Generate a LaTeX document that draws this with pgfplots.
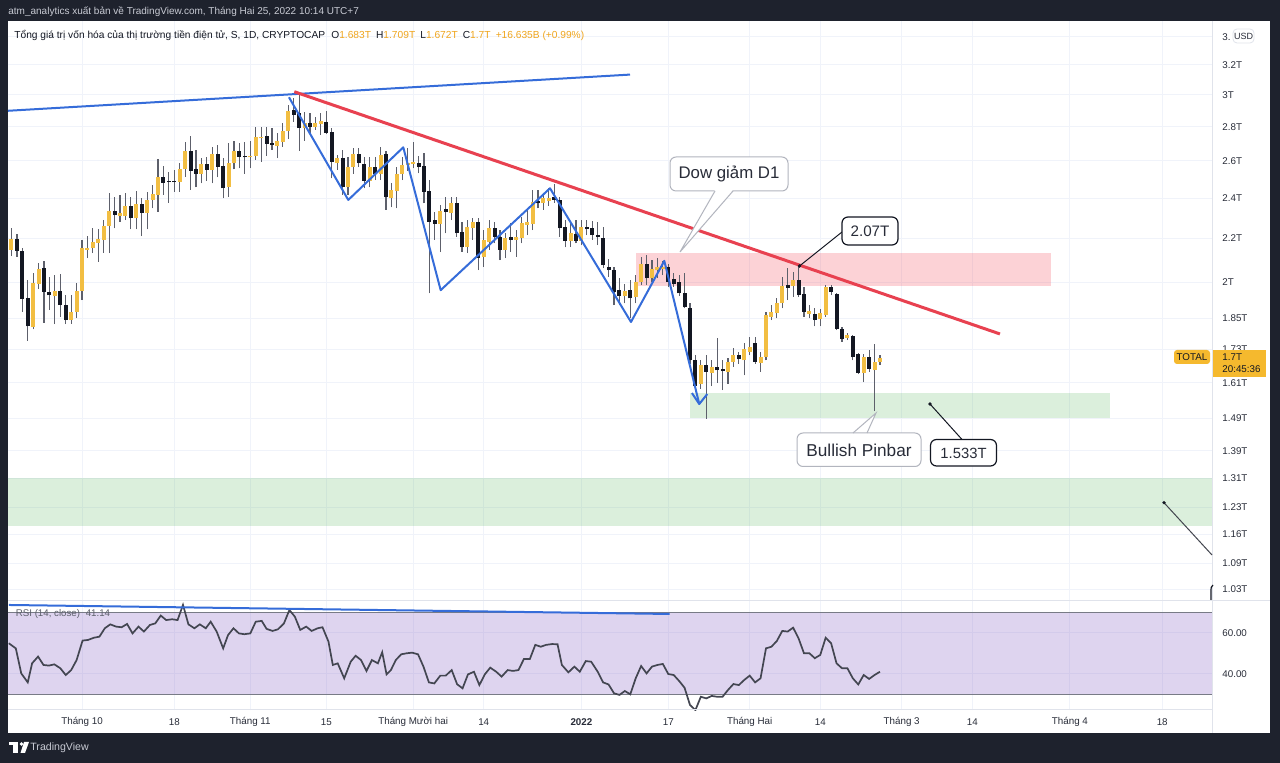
\documentclass[border=0pt]{standalone}
\usepackage{fontspec}
\setmainfont{Liberation Sans}
\usepackage{pgfplots}
\usepackage{pgfplotstable}
\pgfplotsset{compat=1.18}

\definecolor{bgdark}{RGB}{30,34,45}
\definecolor{upc}{RGB}{242,190,66}
\definecolor{dnc}{RGB}{19,23,34}
\definecolor{wickc}{RGB}{93,96,107}
\definecolor{gridc}{RGB}{240,243,250}
\definecolor{sepc}{RGB}{224,227,235}
\definecolor{bluel}{RGB}{53,108,217}
\definecolor{redl}{RGB}{232,65,80}
\definecolor{tvred}{RGB}{242,54,69}
\definecolor{tvgreen}{RGB}{76,175,80}
\definecolor{tvpurple}{RGB}{126,87,194}
\definecolor{rsiline}{RGB}{67,70,81}
\definecolor{bandline}{RGB}{120,123,134}
\definecolor{txt}{RGB}{40,44,56}
\definecolor{hdrtxt}{RGB}{200,203,212}
\definecolor{orangev}{RGB}{240,166,30}
\definecolor{yel}{RGB}{245,185,46}
\definecolor{boxb}{RGB}{178,181,190}

\newcommand{\fs}[1]{\fontsize{#1}{#1}\selectfont}

\pgfplotstableread{
d o h l c
-13 2.145 2.248 2.117 2.195
-9 1.816 2.041 1.807 1.997
-8 1.995 2.085 1.971 2.057
-5 1.942 2.032 1.827 1.964
-2 1.843 1.946 1.830 1.876
-1 1.875 1.997 1.851 1.965
0 1.965 2.192 1.925 2.153
1 2.147 2.210 2.108 2.154
2 2.153 2.248 2.130 2.183
3 2.179 2.245 2.091 2.195
4 2.192 2.288 2.133 2.259
5 2.259 2.425 2.130 2.335
7 2.308 2.416 2.280 2.322
8 2.308 2.425 2.288 2.359
10 2.297 2.438 2.243 2.369
12 2.325 2.433 2.243 2.390
13 2.390 2.468 2.347 2.421
14 2.416 2.612 2.330 2.509
18 2.486 2.588 2.433 2.553
19 2.553 2.711 2.513 2.659
22 2.528 2.616 2.477 2.584
24 2.550 2.682 2.477 2.640
27 2.459 2.702 2.404 2.588
28 2.588 2.717 2.553 2.659
31 2.621 2.717 2.559 2.629
32 2.629 2.801 2.606 2.736
33 2.730 2.801 2.597 2.740
36 2.686 2.761 2.616 2.717
37 2.711 2.822 2.682 2.777
38 2.777 2.935 2.725 2.899
41 2.791 2.893 2.717 2.825
43 2.801 2.861 2.781 2.822
44 2.817 2.883 2.750 2.837
47 2.588 2.634 2.550 2.616
49 2.456 2.621 2.416 2.565
50 2.565 2.673 2.528 2.640
53 2.491 2.621 2.456 2.565
55 2.528 2.682 2.495 2.634
57 2.399 2.477 2.352 2.442
58 2.438 2.565 2.347 2.528
59 2.528 2.621 2.495 2.578
60 2.576 2.673 2.546 2.591
61 2.584 2.711 2.559 2.597
66 2.269 2.364 2.135 2.332
68 2.325 2.407 2.288 2.372
71 2.157 2.288 2.130 2.253
72 2.248 2.297 2.192 2.280
74 2.114 2.239 2.069 2.192
75 2.184 2.288 2.145 2.248
78 2.145 2.223 2.107 2.199
80 2.192 2.239 2.114 2.207
81 2.199 2.305 2.176 2.272
82 2.264 2.339 2.215 2.280
83 2.269 2.442 2.239 2.381
85 2.375 2.428 2.339 2.399
86 2.385 2.452 2.359 2.399
90 2.188 2.272 2.160 2.223
92 2.188 2.288 2.168 2.253
100 1.942 1.995 1.911 1.964
102 1.936 2.032 1.911 2.003
103 2.003 2.114 1.988 2.081
105 2.017 2.099 2.003 2.057
106 2.054 2.107 2.017 2.068
107 2.058 2.094 2.032 2.068
114 1.607 1.690 1.590 1.672
116 1.644 1.690 1.598 1.666
119 1.648 1.697 1.607 1.684
120 1.684 1.734 1.666 1.709
122 1.690 1.753 1.636 1.730
123 1.721 1.778 1.709 1.738
125 1.681 1.721 1.648 1.703
126 1.703 1.876 1.690 1.863
127 1.856 1.904 1.843 1.876
128 1.870 1.932 1.850 1.914
129 1.911 2.024 1.891 1.984
131 1.984 2.046 1.939 2.010
134 1.867 1.904 1.850 1.880
136 1.846 1.887 1.819 1.872
137 1.863 1.988 1.856 1.981
141 1.775 1.792 1.765 1.784
144 1.644 1.715 1.612 1.701
146 1.654 1.750 1.514 1.684
147 1.683 1.709 1.672 1.700
}\updata

\pgfplotstableread{
d o h l c
-12 2.195 2.220 2.114 2.142
-11 2.142 2.154 1.877 1.929
-10 1.933 2.010 1.762 1.819
-7 2.061 2.096 1.832 1.960
-6 1.960 2.023 1.884 1.945
-4 1.964 2.036 1.856 1.904
-3 1.904 1.946 1.827 1.843
6 2.335 2.407 2.248 2.313
9 2.359 2.407 2.243 2.297
11 2.369 2.399 2.210 2.325
15 2.513 2.572 2.416 2.480
16 2.489 2.540 2.376 2.484
17 2.490 2.550 2.433 2.484
20 2.659 2.744 2.442 2.546
21 2.553 2.663 2.456 2.528
23 2.584 2.622 2.491 2.550
25 2.640 2.692 2.509 2.565
26 2.572 2.616 2.399 2.451
29 2.659 2.705 2.559 2.624
30 2.628 2.711 2.528 2.621
34 2.744 2.797 2.629 2.698
35 2.702 2.791 2.663 2.690
39 2.903 2.978 2.831 2.874
40 2.883 3.010 2.659 2.791
42 2.825 2.883 2.761 2.801
45 2.831 2.899 2.756 2.764
46 2.770 2.791 2.504 2.597
48 2.616 2.663 2.416 2.456
51 2.640 2.673 2.565 2.588
52 2.584 2.624 2.451 2.491
54 2.565 2.621 2.495 2.528
56 2.640 2.659 2.339 2.404
62 2.591 2.629 2.531 2.565
63 2.572 2.647 2.372 2.433
64 2.438 2.495 1.953 2.280
65 2.288 2.330 2.192 2.271
67 2.342 2.407 2.223 2.330
69 2.372 2.404 2.207 2.223
70 2.231 2.280 2.137 2.157
73 2.280 2.297 2.054 2.107
76 2.248 2.280 2.176 2.207
77 2.207 2.239 2.099 2.145
79 2.204 2.272 2.137 2.192
84 2.386 2.442 2.347 2.372
87 2.404 2.476 2.376 2.390
88 2.390 2.404 2.207 2.248
89 2.253 2.288 2.157 2.188
91 2.220 2.288 2.176 2.188
93 2.253 2.288 2.215 2.243
94 2.248 2.285 2.192 2.215
95 2.215 2.280 2.168 2.204
96 2.201 2.256 2.063 2.076
97 2.068 2.104 2.024 2.054
98 2.054 2.068 1.904 1.960
99 1.967 2.019 1.904 1.942
101 1.967 2.010 1.850 1.932
104 2.081 2.122 1.988 2.017
108 2.068 2.083 1.981 2.003
109 2.014 2.040 1.981 1.993
110 2.003 2.032 1.942 1.953
111 1.956 2.040 1.891 1.895
112 1.891 1.911 1.678 1.690
113 1.690 1.709 1.584 1.598
115 1.672 1.709 1.490 1.648
117 1.666 1.772 1.610 1.654
118 1.657 1.690 1.584 1.651
121 1.709 1.721 1.678 1.693
124 1.756 1.778 1.678 1.684
130 1.988 2.061 1.925 1.978
132 2.010 2.071 1.939 1.946
133 1.950 1.981 1.856 1.876
135 1.867 1.891 1.819 1.843
138 1.981 1.988 1.946 1.960
139 1.950 1.956 1.804 1.810
140 1.810 1.817 1.759 1.771
142 1.780 1.784 1.690 1.701
143 1.715 1.717 1.640 1.644
145 1.701 1.727 1.648 1.659
}\dndata

\pgfplotstableread{
d r
-13.5 55.0
-12.2 52.5
-11.2 40.3
-10.0 35.9
-9.2 45.2
-8.1 48.5
-7.1 44.4
-6.1 44.1
-5.1 44.7
-4.0 42.8
-3.0 39.5
-2.0 41.9
-1.0 46.8
0.1 56.3
1.1 56.6
2.2 57.7
3.2 58.2
4.2 62.3
5.2 64.2
6.3 63.1
7.3 62.8
8.3 64.4
9.3 59.8
10.4 63.1
11.4 60.7
12.5 63.9
13.5 64.7
14.5 68.5
15.5 66.3
16.6 66.7
17.6 66.3
18.6 73.7
19.6 64.2
20.7 62.3
21.7 64.2
22.8 62.3
23.7 65.5
24.8 60.7
26.0 52.5
26.9 59.0
27.9 62.3
28.9 59.8
29.9 59.4
31.0 59.8
32.0 65.5
33.1 65.9
34.0 62.0
35.1 61.0
36.1 61.8
37.2 64.7
38.2 71.2
39.2 68.0
40.2 61.5
41.3 63.1
42.3 61.0
43.4 62.3
44.3 62.8
45.4 55.8
46.2 44.4
47.1 45.2
48.3 37.9
49.5 46.0
50.4 48.9
51.4 46.8
52.4 41.5
53.4 46.8
54.5 45.2
55.3 50.6
56.1 39.8
56.9 41.9
57.8 46.8
58.8 49.6
59.8 50.1
60.8 50.4
61.9 49.6
62.9 43.6
63.9 35.9
64.9 35.4
66.0 39.2
67.0 39.2
68.1 41.9
69.1 35.0
70.1 33.0
71.1 39.8
72.2 41.1
73.2 34.6
74.2 39.8
75.2 43.1
76.3 41.1
77.3 38.7
78.4 41.9
79.4 41.5
80.4 41.9
81.4 47.3
82.5 47.3
83.5 54.2
84.5 53.3
85.5 54.2
86.6 54.6
87.6 54.5
88.4 44.4
89.6 40.8
90.7 43.6
91.7 41.1
92.8 46.3
93.8 46.0
95 41.1
96 35.9
97 34.9
98 30.6
99 29.8
100 31.7
101 30.1
102 37.9
103 43.9
104 40.3
105 43.6
106 44.4
107 44.9
108 40.0
109 39.5
110 36.6
111 33.3
112 24.9
113 22.4
114 28.9
115 28.1
116 29.3
117 28.9
118 28.9
119 32.2
120 35.1
121 34.6
122 37.1
123 39.2
124 35.9
125 37.9
126 52.5
127 53.3
128 56.1
129 61.0
130 60.7
131 62.6
132 57.4
133 50.1
134 50.1
135 47.7
136 49.3
137 57.7
138 55.0
139 45.2
140 42.8
141 42.8
142 37.9
143 34.9
144 39.5
145 37.6
146 39.5
147 41.1
}\rsidata

\pgfplotsset{
  tvaxis/.style={
    scale only axis, anchor=north west,
    xmin=-13.64, xmax=208.17,
    axis line style={draw=none},
    major tick length=0pt,
    xtick={0,17,31,45,61,74,92,108,123,136,151,164,182,199},
    grid=major,
    major grid style={draw=gridc, line width=0.5pt},
    yticklabel pos=right,
    yticklabel style={anchor=west, inner sep=0pt, xshift=5pt, font=\fs{4.9}, text=txt},
  },
  candle/.style 2 args={draw=none, mark=none, forget plot,
    error bars/.cd, y dir=plus, y explicit, error mark=none,
    error bar style={draw=#1, solid, line width=#2}},
}

\begin{document}
\begin{tikzpicture}
\begin{scope}[x=0.5pt,y=-0.5pt]
\useasboundingbox (0,0) rectangle (1280,763);
\fill[bgdark] (0,0) rectangle (1280,763);
\fill[white] (8,21) rectangle (1270,733);
\end{scope}

% ---------------- price pane
\begin{axis}[tvaxis, at={(4pt,-10.5pt)}, width=602pt, height=290pt,
  ymode=log, ymin=1.00433, ymax=3.519,
  ytick={1.03,1.09,1.16,1.23,1.31,1.39,1.49,1.61,1.73,1.85,2,2.2,2.4,2.6,2.8,3,3.2,3.4},
  yticklabels={1.03T,1.09T,1.16T,1.23T,1.31T,1.39T,1.49T,1.61T,1.73T,1.85T,2T,2.2T,2.4T,2.6T,2.8T,3T,3.2T,3.},
  xticklabels={}]
\fill[tvred, fill opacity=0.22] (axis cs:102.06,1.984) rectangle (axis cs:178.5,2.131);
\fill[tvgreen, fill opacity=0.2] (axis cs:112.0,1.4917) rectangle (axis cs:189.4,1.5745);
\fill[tvgreen, fill opacity=0.2] (axis cs:-13.64,1.181) rectangle (axis cs:208.17,1.310);
% wicks
\addplot[candle={wickc}{0.6pt}] table[x=d, y=l, y error expr=\thisrow{h}-\thisrow{l}] {\updata};
\addplot[candle={wickc}{0.6pt}] table[x=d, y=l, y error expr=\thisrow{h}-\thisrow{l}] {\dndata};
% bodies
\addplot[candle={upc}{2pt}] table[x=d, y=o, y error expr=\thisrow{c}-\thisrow{o}] {\updata};
\addplot[candle={dnc}{2pt}] table[x=d, y=c, y error expr=\thisrow{o}-\thisrow{c}] {\dndata};
% drawings
\draw[bluel, line width=1pt] (axis cs:-13.64,2.898) -- (axis cs:100.95,3.134);
\draw[redl, line width=1.5pt] (axis cs:39.1,3.020) -- (axis cs:169.1,1.789);
\draw[bluel, line width=1pt, line join=round] (axis cs:38.12,2.984) -- (axis cs:49.05,2.390) -- (axis cs:59.18,2.678)
  -- (axis cs:66.07,1.967) -- (axis cs:86.21,2.451) -- (axis cs:101.13,1.836) -- (axis cs:107.27,2.095)
  -- (axis cs:113.71,1.5375) -- (axis cs:115.18,1.571);
\draw[bluel, line width=1pt] (axis cs:112.36,1.5745) -- (axis cs:113.71,1.5375);
\end{axis}

% ---------------- RSI pane
\begin{axis}[tvaxis, at={(4pt,-300.5pt)}, width=602pt, height=54.5pt,
  ymin=22.44, ymax=75.6, ytick={40,60}, yticklabels={40.00,60.00},
  xticklabels={Tháng 10,18,Tháng 11,15,Tháng Mười hai,14,\textbf{2022},17,Tháng Hai,14,Tháng 3,14,Tháng 4,18},
  xticklabel style={anchor=center, yshift=-5.85pt, font=\fs{4.9}, text=txt}]
\fill[tvpurple, fill opacity=0.25] (axis cs:-13.64,30) rectangle (axis cs:208.17,70);
\draw[bandline, line width=0.5pt] (axis cs:-13.64,70) -- (axis cs:208.17,70);
\draw[bandline, line width=0.5pt] (axis cs:-13.64,30) -- (axis cs:208.17,30);
\addplot[rsiline, line width=0.85pt, mark=none] table[x=d, y=r] {\rsidata};
\draw[bluel, line width=1pt] (axis cs:-13.48,73.66) -- (axis cs:108.24,69.27);
\end{axis}

\begin{scope}[x=0.5pt,y=-0.5pt]
% separators
\draw[sepc, line width=0.5pt] (1212,21) -- (1212,733);
\draw[sepc, line width=0.5pt] (8,601) -- (1270,601);
\draw[sepc, line width=0.5pt] (8,710) -- (1212,710);
% header
\node[anchor=west, inner sep=0, text=hdrtxt, font=\fs{5}] at (8,12) {atm\_analytics xuất bản về TradingView.com, Tháng Hai 25, 2022 10:14 UTC+7};
\node[anchor=west, inner sep=0, text=dnc, font=\fs{5.1}] at (14,35) {Tổng giá trị vốn hóa của thị trường tiền điện tử, S, 1D, CRYPTOCAP\hspace{0.6em}O\textcolor{orangev}{1.683T}\hspace{0.5em}H\textcolor{orangev}{1.709T}\hspace{0.5em}L\textcolor{orangev}{1.672T}\hspace{0.5em}C\textcolor{orangev}{1.7T}\hspace{0.5em}\textcolor{orangev}{+16.635B (+0.99\%)}};
\node[anchor=west, inner sep=0, text=wickc, font=\fs{4.85}] at (15.5,614) {RSI (14, close)\hspace{0.6em}41.14};
% USD box
\draw[sepc, fill=white, rounded corners=2] (1233,29) rectangle (1254,43);
\node[text=txt, font=\fs{4.5}, inner sep=0] at (1243.5,36) {USD};
% last price
\fill[yel] (1213,350) rectangle (1266,377);
\node[anchor=west, inner sep=0, font=\fs{4.9}, text=dnc] at (1222,357) {1.7T};
\node[anchor=west, inner sep=0, font=\fs{4.9}, text=dnc] at (1222,369.5) {20:45:36};
\fill[yel, rounded corners=1.5] (1174,350) rectangle (1210,364);
\node[inner sep=0, font=\fs{4.9}, text=dnc] at (1192,357) {TOTAL};
% callout Dow
\draw[boxb, line width=0.5pt, fill=white, rounded corners=3] (670,157) rectangle (788,191);
\fill[white] (715,189.8) -- (733,189.8) -- (680,252) -- cycle;
\draw[boxb, line width=0.5pt] (715,191) -- (680,252) -- (733,191);
\node[text=txt, font=\fs{8.4}, inner sep=0] at (729,174) {Dow giảm D1};
% 2.07T
\draw[dnc, line width=0.5pt] (799.5,266) -- (842,232);
\fill[dnc] (799.5,266) circle (1.8);
\draw[dnc, line width=0.6pt, fill=white, rounded corners=3] (842,217) rectangle (898,245);
\node[text=txt, font=\fs{7.6}, inner sep=0] at (870,231) {2.07T};
% Bullish Pinbar
\draw[boxb, line width=0.5pt, fill=white, rounded corners=3] (797,433) rectangle (921,466.5);
\fill[white] (853,431.8) -- (867,431.8) -- (876,413) -- cycle;
\draw[boxb, line width=0.5pt] (853,433) -- (876,413) -- (867,433);
\node[text=txt, font=\fs{8.6}, inner sep=0] at (859,450) {Bullish Pinbar};
% 1.533T
\draw[dnc, line width=0.5pt] (930,404) -- (962,439.5);
\fill[dnc] (930,404) circle (1.8);
\draw[dnc, line width=0.6pt, fill=white, rounded corners=3] (930.5,439.5) rectangle (996.5,466);
\node[text=txt, font=\fs{7.4}, inner sep=0] at (963.5,453) {1.533T};
% right side note line
\draw[dnc!80, line width=0.5pt] (1164,502.7) -- (1212,555);
\fill[dnc] (1164,502.7) circle (1.8);
\draw[dnc, line width=0.6pt] (1213,585) .. controls (1211,586) and (1211,588) .. (1211,592) -- (1211,600);
% footer
\fill[white] (9,742) rectangle (18,745.5);
\fill[white] (13,745.5) rectangle (18,753);
\fill[white] (21.5,744) circle (1.8);
\fill[white] (24,742) -- (29,742) -- (25,753) -- (20.5,753) -- cycle;
\node[anchor=west, inner sep=0, text=hdrtxt, font=\fs{5.3}] at (30,748) {TradingView};
\end{scope}
\end{tikzpicture}
\end{document}
